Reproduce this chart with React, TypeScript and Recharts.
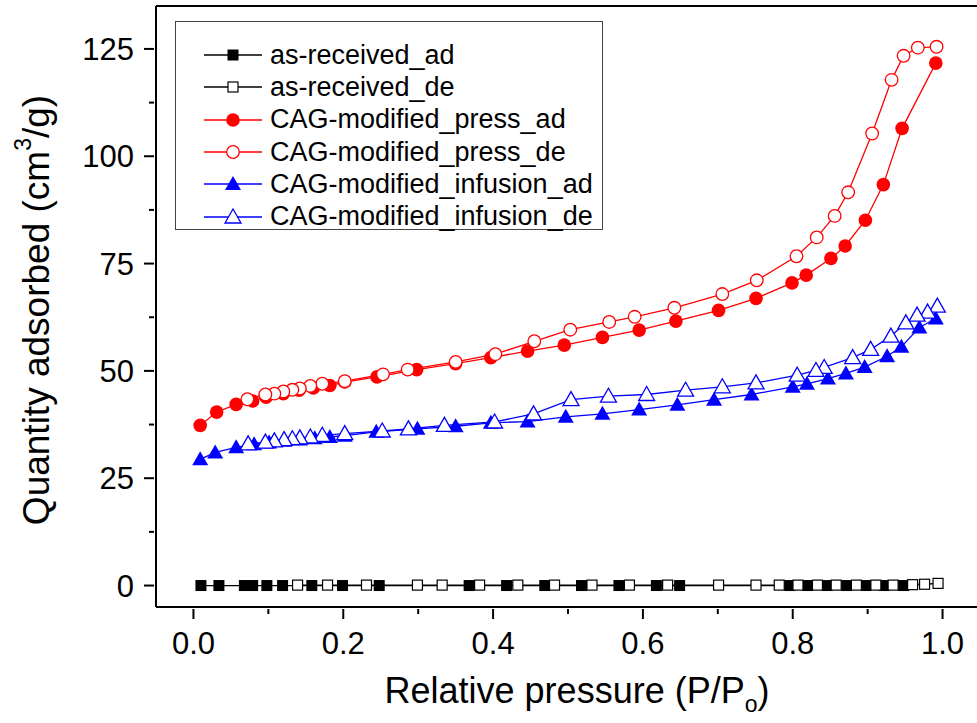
import React from "react";
import { ScatterChart, Scatter, XAxis, YAxis, Legend } from "recharts";

// P/Po , quantity (cm3/g)
const receivedAd: [number, number][] = [
  [0.01, 0], [0.034, 0], [0.068, 0], [0.079, 0], [0.098, 0], [0.119, 0], [0.158, 0],
  [0.199, 0], [0.248, 0], [0.368, 0], [0.418, 0], [0.469, 0], [0.518, 0], [0.568, 0],
  [0.618, 0], [0.649, 0], [0.796, 0], [0.82, 0], [0.846, 0], [0.872, 0], [0.898, 0],
  [0.922, 0], [0.948, 0],
];
const receivedDe: [number, number][] = [
  [0.994, 0.5], [0.976, 0.3], [0.96, 0.2], [0.934, 0.1], [0.911, 0.1], [0.885, 0.1],
  [0.858, 0.1], [0.833, 0.1], [0.807, 0.1], [0.782, 0.1], [0.751, 0.1], [0.701, 0.1],
  [0.633, 0.1], [0.582, 0.1], [0.532, 0.1], [0.482, 0.1], [0.433, 0.1], [0.382, 0.1],
  [0.332, 0.1], [0.299, 0.1], [0.231, 0.1], [0.179, 0.1], [0.139, 0.1],
];
const pressAd: [number, number][] = [
  [0.009, 37.3], [0.031, 40.4], [0.057, 42.2], [0.079, 43.0], [0.097, 43.9], [0.12, 44.7],
  [0.141, 45.5], [0.16, 46.0], [0.182, 46.6], [0.202, 47.4], [0.245, 48.6], [0.298, 50.3],
  [0.35, 51.7], [0.397, 53.1], [0.446, 54.6], [0.495, 56.0], [0.546, 57.8], [0.595, 59.5],
  [0.644, 61.6], [0.701, 64.1], [0.751, 66.9], [0.799, 70.5], [0.818, 72.3], [0.851, 76.2],
  [0.87, 79.1], [0.897, 85.1], [0.921, 93.4], [0.946, 106.5], [0.991, 121.7],
];
const pressDe: [number, number][] = [
  [0.992, 125.5], [0.967, 125.3], [0.948, 123.4], [0.932, 117.8], [0.906, 105.3],
  [0.874, 91.6], [0.856, 86.1], [0.832, 81.1], [0.805, 76.7], [0.752, 71.1], [0.706, 67.9],
  [0.642, 64.7], [0.589, 62.6], [0.555, 61.4], [0.503, 59.6], [0.455, 56.9], [0.403, 53.9],
  [0.35, 52.1], [0.286, 50.3], [0.253, 49.2], [0.202, 47.6], [0.172, 47.0], [0.156, 46.5],
  [0.142, 45.9], [0.132, 45.6], [0.12, 45.2], [0.108, 44.7], [0.096, 44.5], [0.072, 43.4],
];
const infusionAd: [number, number][] = [
  [0.009, 29.4], [0.029, 31.0], [0.057, 32.2], [0.081, 32.9], [0.101, 33.3], [0.121, 33.7],
  [0.142, 34.0], [0.162, 34.3], [0.182, 34.6], [0.202, 34.9], [0.244, 35.8], [0.299, 36.5],
  [0.35, 37.1], [0.397, 37.9], [0.446, 38.2], [0.497, 39.3], [0.546, 40.0], [0.595, 41.0],
  [0.646, 42.1], [0.695, 43.3], [0.745, 44.5], [0.8, 46.3], [0.819, 47.0], [0.847, 48.2],
  [0.871, 49.4], [0.896, 50.9], [0.926, 53.4], [0.945, 55.6], [0.969, 60.1], [0.991, 62.2],
];
const infusionDe: [number, number][] = [
  [0.993, 65.1], [0.98, 63.7], [0.966, 63.0], [0.951, 61.2], [0.931, 58.1], [0.904, 55.0],
  [0.88, 53.1], [0.842, 50.8], [0.831, 50.1], [0.806, 49.0], [0.751, 47.2], [0.706, 46.3],
  [0.657, 45.5], [0.605, 44.5], [0.554, 44.1], [0.504, 43.3], [0.454, 40.0], [0.402, 38.1],
  [0.335, 37.3], [0.287, 36.5], [0.252, 36.0], [0.202, 35.4], [0.172, 35.0], [0.156, 34.6],
  [0.142, 34.4], [0.132, 34.2], [0.121, 34.0], [0.108, 33.7], [0.096, 33.4], [0.073, 33.0],
];

const xTicks = [0, 0.1, 0.2, 0.3, 0.4, 0.5, 0.6, 0.7, 0.8, 0.9, 1.0];
const yTicks = [0, 12.5, 25, 37.5, 50, 62.5, 75, 87.5, 100, 112.5, 125];

const FONT = 'Arial, "Liberation Sans", sans-serif';

type Kind = "sq" | "sqo" | "ci" | "cio" | "tr" | "tro";

function Marker({ kind, cx, cy, color }: { kind: Kind; cx: number; cy: number; color: string }) {
  if (kind === "sq") return <rect x={cx - 5.5} y={cy - 5.5} width={11} height={11} fill={color} />;
  if (kind === "sqo")
    return <rect x={cx - 5} y={cy - 5} width={10} height={10} fill="#fff" stroke={color} strokeWidth={1.2} />;
  if (kind === "ci") return <circle cx={cx} cy={cy} r={6.8} fill={color} />;
  if (kind === "cio") return <circle cx={cx} cy={cy} r={6.3} fill="#fff" stroke={color} strokeWidth={1.3} />;
  const pts = `${cx},${cy - 8} ${cx - 8},${cy + 6} ${cx + 8},${cy + 6}`;
  if (kind === "tr") return <polygon points={pts} fill={color} />;
  return <polygon points={pts} fill="#fff" stroke={color} strokeWidth={1.3} />;
}

const series = [
  { name: "as-received_ad", data: receivedAd, color: "#000000", kind: "sq" as Kind },
  { name: "as-received_de", data: receivedDe, color: "#000000", kind: "sqo" as Kind },
  { name: "CAG-modified_press_ad", data: pressAd, color: "#ff0000", kind: "ci" as Kind },
  { name: "CAG-modified_press_de", data: pressDe, color: "#ff0000", kind: "cio" as Kind },
  { name: "CAG-modified_infusion_ad", data: infusionAd, color: "#0000ff", kind: "tr" as Kind },
  { name: "CAG-modified_infusion_de", data: infusionDe, color: "#0000ff", kind: "tro" as Kind },
];

const XTick = (props: any) => {
  const { x, y, payload } = props;
  const major = Math.round(payload.value * 10) % 2 === 0;
  return (
    <g>
      <line x1={x} x2={x} y1={y} y2={y + (major ? 10 : 5)} stroke="#000" strokeWidth={2} />
      {major && (
        <text x={x} y={y + 45} textAnchor="middle" fontSize={31} fontFamily={FONT} fill="#000">
          {payload.value.toFixed(1)}
        </text>
      )}
    </g>
  );
};

const TopTick = (props: any) => {
  const { x, y } = props;
  return <line x1={x} x2={x} y1={y} y2={y + 4} stroke="#000" strokeWidth={1.5} />;
};

const YTick = (props: any) => {
  const { x, y, payload } = props;
  const major = payload.value % 25 === 0;
  return (
    <g>
      <line x1={x - (major ? 10 : 5)} x2={x} y1={y} y2={y} stroke="#000" strokeWidth={2} />
      {major && (
        <text x={x - 20} y={y + 11} textAnchor="end" fontSize={31} fontFamily={FONT} fill="#000">
          {payload.value}
        </text>
      )}
    </g>
  );
};

const renderLegend = () => (
  <div
    style={{
      border: "1px solid #444",
      background: "#fff",
      width: 426,
      height: 190,
      boxSizing: "content-box",
      paddingTop: 17,
      fontFamily: FONT,
    }}
  >
    {series.map((s) => (
      <div key={s.name} style={{ display: "flex", alignItems: "center", height: 32.3 }}>
        <svg width={94} height={32} style={{ flex: "none" }}>
          <line x1={28} x2={86} y1={16} y2={16} stroke={s.color} strokeWidth={1.3} />
          <Marker kind={s.kind} cx={57} cy={16} color={s.color} />
        </svg>
        <span style={{ fontSize: 27, color: "#000", whiteSpace: "nowrap" }}>{s.name}</span>
      </div>
    ))}
  </div>
);

export default function App() {
  return (
    <div style={{ position: "absolute", left: 0, top: 0, width: 977, height: 723, overflow: "hidden", background: "#fff" }}>
      <ScatterChart width={990} height={723} margin={{ top: 5, right: 10, bottom: 115, left: 155 }}>
        <XAxis
          dataKey="x"
          type="number"
          domain={[-0.05, 1.05]}
          ticks={xTicks}
          interval={0}
          tickSize={0}
          tickLine={false}
          height={1}
          axisLine={{ stroke: "#000", strokeWidth: 2 }}
          tick={<XTick />}
          label={{
            content: () => (
              <text x={577} y={703} textAnchor="middle" fontSize={36} fontFamily={FONT} fill="#000">
                Relative pressure (P/P
                <tspan dy={9} fontSize={23}>o</tspan>
                <tspan dy={-9}>)</tspan>
              </text>
            ),
          }}
        />
        <XAxis
          xAxisId="top"
          orientation="top"
          type="number"
          domain={[-0.05, 1.05]}
          ticks={xTicks}
          interval={0}
          tickSize={0}
          tickLine={false}
          height={1}
          axisLine={{ stroke: "#000", strokeWidth: 2 }}
          tick={<TopTick />}
        />
        <YAxis
          dataKey="y"
          type="number"
          domain={[-5, 135]}
          ticks={yTicks}
          interval={0}
          tickSize={0}
          tickLine={false}
          width={1}
          axisLine={{ stroke: "#000", strokeWidth: 2 }}
          tick={<YTick />}
          label={{
            content: () => (
              <text
                x={36}
                y={310}
                transform="rotate(-90, 36, 310)"
                textAnchor="middle"
                dominantBaseline="central"
                fontSize={37}
                fontFamily={FONT}
                fill="#000"
              >
                Quantity adsorbed (cm
                <tspan dy={-13} fontSize={23}>3</tspan>
                <tspan dy={13}>/g)</tspan>
              </text>
            ),
          }}
        />
        <Legend
          layout="vertical"
          align="center"
          verticalAlign="middle"
          content={renderLegend}
          wrapperStyle={{ left: 175, top: 21, width: 428, height: 209 }}
        />
        {series.map((s) => (
          <Scatter
            key={s.name}
            name={s.name}
            data={s.data.map(([x, y]) => ({ x, y }))}
            line={{ stroke: s.color, strokeWidth: 1.3 }}
            lineType="joint"
            isAnimationActive={false}
            shape={(p: any) => <Marker kind={s.kind} cx={p.cx} cy={p.cy} color={s.color} />}
          />
        ))}
      </ScatterChart>
    </div>
  );
}
